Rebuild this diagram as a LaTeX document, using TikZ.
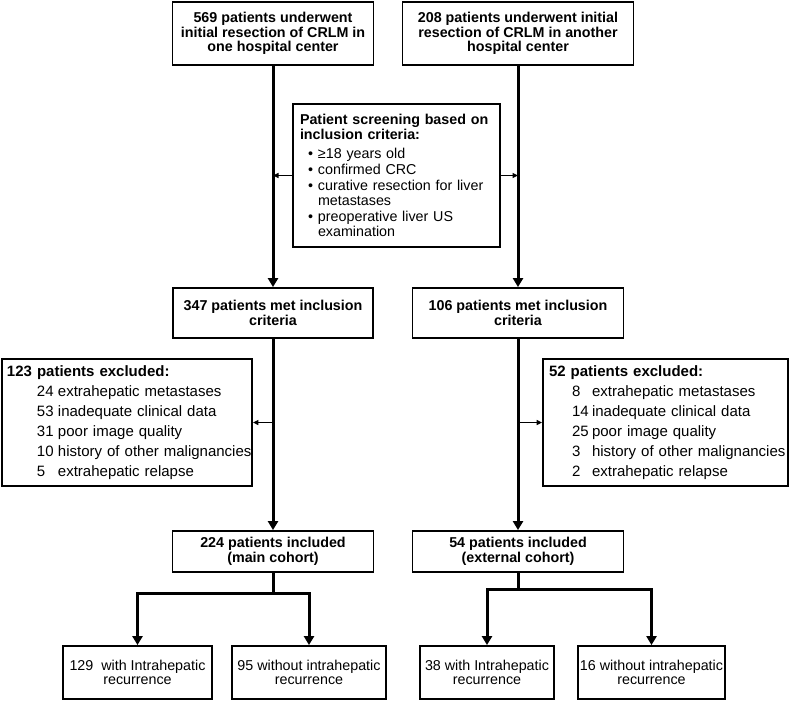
\documentclass[tikz,border=0pt]{standalone}
\usepackage{fontspec}
\setmainfont{Liberation Sans}
\usetikzlibrary{arrows.meta,calc}
\hyphenpenalty=10000
\exhyphenpenalty=10000
\begin{document}
\begin{tikzpicture}[x=1bp,y=-1bp,
  box/.style={draw,line width=1.8bp,inner sep=0pt,align=center,
    font=\fontsize{14.3bp}{14.5bp}\selectfont\bfseries},
  leaf/.style={draw,line width=1.8bp,inner sep=0pt,align=center,
    font=\fontsize{14.3bp}{14.2bp}\selectfont},
  listbox/.style={draw,line width=1.8bp,inner ysep=0pt,align=left},
  thick arrow/.style={line width=3bp,-{Triangle[length=9bp,width=10bp]}},
  thick line/.style={line width=3bp},
  thin arrow/.style={line width=1.3bp,-{Triangle[length=5.5bp,width=5bp]}}]
\useasboundingbox (0,0) rectangle (790,701);

% top boxes
\node[box,minimum width=201bp,minimum height=63bp] (A) at (273,33.5)
  {569 patients underwent\\initial resection of CRLM in\\one hospital center};
\node[box,minimum width=231bp,minimum height=63bp] (B) at (518,33.5)
  {208 patients underwent initial\\resection of CRLM in another\\hospital center};

% screening box
\node[listbox,text width=193bp,inner xsep=7bp,minimum height=143bp,
  font=\fontsize{14.3bp}{15bp}\selectfont] (S) at (396.5,175.5)
  {\textbf{Patient screening based on}\\
   \textbf{inclusion criteria:}\\[4bp]
   \hspace*{8bp}\makebox[10bp][l]{•}≥18 years old\\[1bp]
   \hspace*{8bp}\makebox[10bp][l]{•}confirmed CRC\\[1bp]
   \hspace*{8bp}\makebox[10bp][l]{•}\mbox{curative resection for liver}\\
   \hspace*{18bp}metastases\\[1bp]
   \hspace*{8bp}\makebox[10bp][l]{•}preoperative liver US\\
   \hspace*{18bp}examination};

% met inclusion
\node[box,minimum width=200bp,minimum height=50bp] (C) at (273,313)
  {347 patients met inclusion\\criteria};
\node[box,minimum width=211bp,minimum height=50bp] (D) at (518,313)
  {106 patients met inclusion\\criteria};

% excluded boxes
\node[listbox,text width=240bp,inner xsep=5bp,minimum height=127bp,
  font=\fontsize{15bp}{20bp}\selectfont] (EL) at (127,422.5)
  {\textbf{123 patients excluded:}\\
   \hspace*{30bp}\makebox[21bp][l]{24}\mbox{extrahepatic metastases}\\
   \hspace*{30bp}\makebox[21bp][l]{53}\mbox{inadequate clinical data}\\
   \hspace*{30bp}\makebox[21bp][l]{31}\mbox{poor image quality}\\
   \hspace*{30bp}\makebox[21bp][l]{10}\mbox{history of other malignancies}\\
   \hspace*{30bp}\makebox[21bp][l]{5}\mbox{extrahepatic relapse}};
\node[listbox,text width=233bp,inner xsep=6bp,minimum height=127bp,
  font=\fontsize{15bp}{20bp}\selectfont] (ER) at (665.5,422.5)
  {\textbf{52 patients excluded:}\\
   \hspace*{23bp}\makebox[20bp][l]{8}\mbox{extrahepatic metastases}\\
   \hspace*{23bp}\makebox[20bp][l]{14}\mbox{inadequate clinical data}\\
   \hspace*{23bp}\makebox[20bp][l]{25}\mbox{poor image quality}\\
   \hspace*{23bp}\makebox[20bp][l]{3}\mbox{history of other malignancies}\\
   \hspace*{23bp}\makebox[20bp][l]{2}\mbox{extrahepatic relapse}};

% included
\node[box,minimum width=201bp,minimum height=41bp] (E) at (273,551.5)
  {224 patients included\\(main cohort)};
\node[box,minimum width=211bp,minimum height=41bp] (F) at (518,551.5)
  {54 patients included\\(external cohort)};

% outcomes
\node[leaf,minimum width=149bp,minimum height=53bp] (G1) at (137.5,672.5)
  {129\ \ with Intrahepatic\\recurrence};
\node[leaf,minimum width=154bp,minimum height=53bp] (G2) at (309,672.5)
  {95 without intrahepatic\\recurrence};
\node[leaf,minimum width=134bp,minimum height=53bp] (H1) at (487,672.5)
  {38 with Intrahepatic\\recurrence};
\node[leaf,minimum width=147bp,minimum height=53bp] (H2) at (651.5,672.5)
  {16 without intrahepatic\\recurrence};

% connectors
\draw[thick arrow] (A.south) -- (C.north);
\draw[thick arrow] (B.south) -- (D.north);
\draw[thin arrow] (S.west) -- (S.west -| A.south);
\draw[thin arrow] (S.east) -- (S.east -| B.south);

\draw[thick arrow] (C.south) -- (E.north);
\draw[thick arrow] (D.south) -- (F.north);
\draw[thin arrow] (EL.east -| C.south) -- (EL.east);
\draw[thin arrow] (ER.west -| D.south) -- (ER.west);

\coordinate (eb) at (273,593);
\coordinate (fb) at (518,589);
\draw[thick line] (E.south) -- (eb);
\draw[thick arrow] (eb) -| (G1.north);
\draw[thick arrow] (eb) -| (G2.north);
\draw[thick line] (F.south) -- (fb);
\draw[thick arrow] (fb) -| (H1.north);
\draw[thick arrow] (fb) -| (H2.north);
\end{tikzpicture}
\end{document}
